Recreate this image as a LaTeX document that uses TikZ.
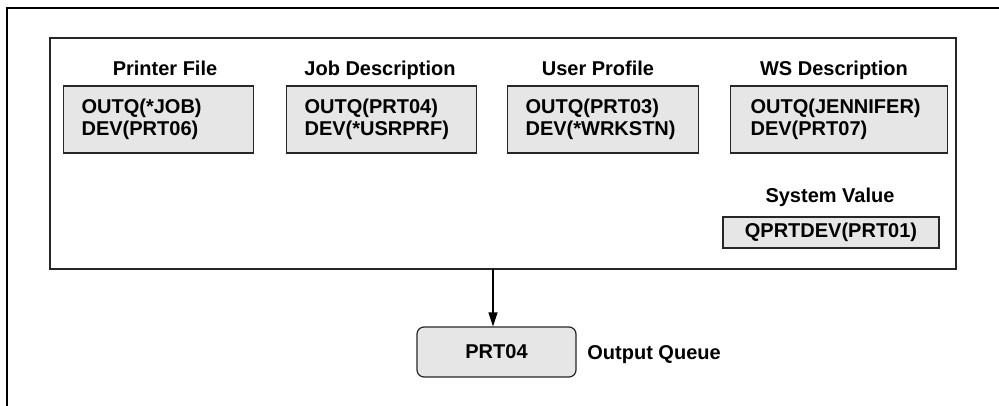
\documentclass[tikz,border=0pt]{standalone}
\usepackage{fontspec}
\setmainfont{Liberation Sans}
\usetikzlibrary{arrows.meta}
\definecolor{boxgray}{HTML}{E6E6E6}
\begin{document}
\begin{tikzpicture}[x=0.5pt,y=-0.5pt,
  font=\fontsize{10pt}{11pt}\selectfont\bfseries,
  valbox/.style={draw=black!85,line width=0.6pt,fill=boxgray,minimum height=33.5pt,
    inner xsep=9pt,align=left,anchor=west},
  titlelbl/.style={anchor=base,inner sep=0pt},
  conn/.style={line width=0.6pt,-{Triangle[length=7pt,width=4.5pt]}}]
\useasboundingbox (0,0) rectangle (999,406);
% outer frame (top and left only)
\draw[line width=1.2pt] (7,406) -- (7,8) -- (999,8);
% inner frame
\node[draw=black!85,line width=0.7pt,minimum width=453pt,minimum height=115.5pt,inner sep=0pt] (frame) at (503,153.5) {};
% titles
\node[titlelbl] (t1) at (165,76) {Printer File};
\node[titlelbl] (t2) at (380,76) {Job Description};
\node[titlelbl] (t3) at (598,76) {User Profile};
\node[titlelbl] (t4) at (834,76) {WS Description};
\node[titlelbl] (t5) at (830,203) {System Value};
% value boxes
\node[valbox,minimum width=95pt,text width=77pt] (b1) at (63,119.5) {OUTQ(*JOB)\\DEV(PRT06)};
\node[valbox,minimum width=95pt,text width=77pt] (b2) at (286,119.5) {OUTQ(PRT04)\\DEV(*USRPRF)};
\node[valbox,minimum width=95.5pt,text width=77.5pt] (b3) at (507,119.5) {OUTQ(PRT03)\\DEV(*WRKSTN)};
\node[valbox,minimum width=106.5pt,text width=88.5pt,inner xsep=10pt] (b4) at (730,119.5) {OUTQ(JENNIFER)\\DEV(PRT07)};
\node[draw=black!85,line width=0.6pt,fill=boxgray,minimum width=108pt,minimum height=15.5pt,inner sep=0pt] (b5) at (831,232.5) {QPRTDEV(PRT01)};
% output queue
\node[draw=black!85,line width=0.6pt,fill=boxgray,rounded corners=3.5pt,minimum width=79.5pt,minimum height=25pt,inner sep=0pt] (out) at (496.5,352) {PRT04};
\node[anchor=base west,inner sep=0pt] (ol) at (587,359) {Output Queue};
\coordinate (a0) at (493,269);
\draw[conn] (a0) -- (a0 |- out.north);
\end{tikzpicture}
\end{document}
